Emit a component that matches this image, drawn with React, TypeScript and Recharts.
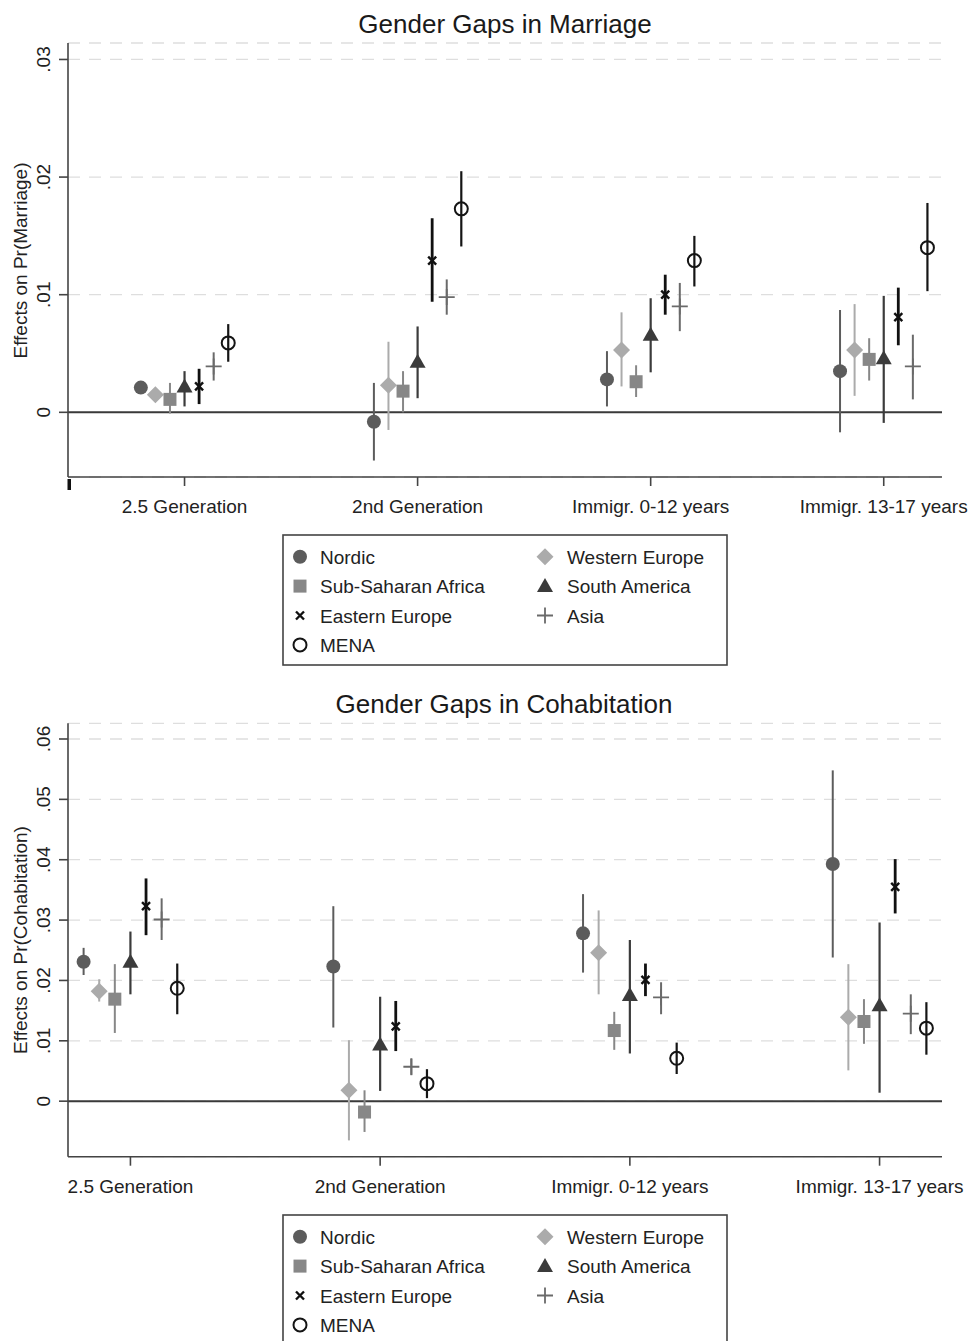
import React from "react";
import { ScatterChart, Scatter, XAxis, YAxis, CartesianGrid, ReferenceLine, ErrorBar } from "recharts";

const FONT = "'Liberation Sans', Arial, Helvetica, sans-serif";

// ---------- data ----------
const CATEGORIES = ["2.5 Generation", "2nd Generation", "Immigr. 0-12 years", "Immigr. 13-17 years"];
const REGIONS = ["Nordic", "Western Europe", "Sub-Saharan Africa", "South America", "Eastern Europe", "Asia", "MENA"];

// rows = regions (order above), columns = categories
const MARRIAGE_EST = [
  [0.0021, -0.0008, 0.0028, 0.0035],
  [0.0015, 0.0023, 0.0053, 0.0053],
  [0.0011, 0.0018, 0.0026, 0.0045],
  [0.0022, 0.0043, 0.0066, 0.0046],
  [0.0022, 0.0129, 0.0100, 0.0081],
  [0.0039, 0.0098, 0.0090, 0.0039],
  [0.0059, 0.0173, 0.0129, 0.0140],
];
const MARRIAGE_LO = [
  [0.0019, -0.0041, 0.0005, -0.0017],
  [0.0013, -0.0015, 0.0022, 0.0014],
  [-0.0001, 0.0000, 0.0013, 0.0027],
  [0.0005, 0.0012, 0.0034, -0.0009],
  [0.0007, 0.0094, 0.0083, 0.0057],
  [0.0027, 0.0083, 0.0069, 0.0011],
  [0.0043, 0.0141, 0.0107, 0.0103],
];
const MARRIAGE_HI = [
  [0.0023, 0.0025, 0.0052, 0.0087],
  [0.0018, 0.0060, 0.0085, 0.0092],
  [0.0025, 0.0035, 0.0040, 0.0063],
  [0.0035, 0.0073, 0.0097, 0.0099],
  [0.0037, 0.0165, 0.0117, 0.0106],
  [0.0051, 0.0113, 0.0110, 0.0066],
  [0.0075, 0.0205, 0.0150, 0.0178],
];

const COHAB_EST = [
  [0.0231, 0.0223, 0.0278, 0.0393],
  [0.0182, 0.0018, 0.0246, 0.0139],
  [0.0169, -0.0018, 0.0117, 0.0132],
  [0.0231, 0.0094, 0.0176, 0.0159],
  [0.0323, 0.0124, 0.0201, 0.0355],
  [0.0301, 0.0057, 0.0172, 0.0145],
  [0.0187, 0.0029, 0.0071, 0.0121],
];
const COHAB_LO = [
  [0.0209, 0.0122, 0.0213, 0.0238],
  [0.0165, -0.0065, 0.0177, 0.0051],
  [0.0113, -0.0051, 0.0085, 0.0095],
  [0.0177, 0.0017, 0.0079, 0.0014],
  [0.0275, 0.0083, 0.0174, 0.0311],
  [0.0267, 0.0043, 0.0144, 0.0111],
  [0.0144, 0.0005, 0.0045, 0.0077],
];
const COHAB_HI = [
  [0.0254, 0.0323, 0.0343, 0.0548],
  [0.0202, 0.0101, 0.0316, 0.0227],
  [0.0227, 0.0018, 0.0148, 0.0169],
  [0.0281, 0.0173, 0.0267, 0.0296],
  [0.0369, 0.0166, 0.0228, 0.0401],
  [0.0336, 0.0071, 0.0197, 0.0177],
  [0.0228, 0.0053, 0.0097, 0.0164],
];

const MARRIAGE_Y_TICKS = [0, 0.01, 0.02, 0.03];
const MARRIAGE_Y_LABELS = ["0", ".01", ".02", ".03"];
const COHAB_Y_TICKS = [0, 0.01, 0.02, 0.03, 0.04, 0.05, 0.06];
const COHAB_Y_LABELS = ["0", ".01", ".02", ".03", ".04", ".05", ".06"];

// ---------- styles ----------
const DODGE = 0.0625;
const STYLES = [
  { kind: "circle", color: "#5c5c5c", ci: 2 },
  { kind: "diamond", color: "#ababab", ci: 2 },
  { kind: "square", color: "#878787", ci: 2 },
  { kind: "triangle", color: "#3b3b3b", ci: 2.2 },
  { kind: "x", color: "#111111", ci: 2.8 },
  { kind: "plus", color: "#6a6a6a", ci: 2 },
  { kind: "ocircle", color: "#151515", ci: 2.2 },
];

function Marker({ kind, cx, cy, color }: { kind: string; cx: number; cy: number; color: string }) {
  switch (kind) {
    case "circle":
      return <circle cx={cx} cy={cy} r={7} fill={color} />;
    case "diamond":
      return <polygon points={`${cx},${cy - 8.5} ${cx + 8.5},${cy} ${cx},${cy + 8.5} ${cx - 8.5},${cy}`} fill={color} />;
    case "square":
      return <rect x={cx - 6.5} y={cy - 6.5} width={13} height={13} fill={color} />;
    case "triangle":
      return <polygon points={`${cx},${cy - 8} ${cx + 8},${cy + 6} ${cx - 8},${cy + 6}`} fill={color} />;
    case "x":
      return (
        <path d={`M${cx - 4},${cy - 4}L${cx + 4},${cy + 4}M${cx - 4},${cy + 4}L${cx + 4},${cy - 4}`} stroke={color} strokeWidth={2.4} fill="none" />
      );
    case "plus":
      return <path d={`M${cx - 8},${cy}H${cx + 8}M${cx},${cy - 8}V${cy + 8}`} stroke={color} strokeWidth={1.8} fill="none" />;
    case "ocircle":
      return <circle cx={cx} cy={cy} r={6.5} fill="none" stroke={color} strokeWidth={2} />;
    default:
      return null;
  }
}

function buildSeries(est: number[][], lo: number[][], hi: number[][]) {
  return REGIONS.map((name, i) => ({
    name,
    data: CATEGORIES.map((c, j) => ({
      x: j + 1 + (i - 3) * DODGE,
      y: est[i][j],
      err: [est[i][j] - lo[i][j], hi[i][j] - est[i][j]],
    })),
  }));
}

type PanelProps = {
  top: number;
  height: number;
  marginTop: number;
  marginBottom: number;
  xDomain: [number, number];
  xTicks: number[];
  yDomain: [number, number];
  yTicks: number[];
  yLabels: string[];
  est: number[][];
  lo: number[][];
  hi: number[][];
};

function Panel(p: PanelProps) {
  const series = buildSeries(p.est, p.lo, p.hi);
  const XTick = (props: any) => {
    const { x, y, payload } = props;
    const idx = Math.round(payload.value) - 1;
    if (Math.abs(payload.value - Math.round(payload.value)) > 1e-6) {
      return <rect x={x - 0.5} y={y + 2} width={3.5} height={11} fill="#111" />;
    }
    return (
      <g>
        <line x1={x} x2={x} y1={y} y2={y + 9} stroke="#444" strokeWidth={1.6} />
        <text x={x} y={y + 36} textAnchor="middle" fontFamily={FONT} fontSize={19} fill="#222">
          {CATEGORIES[idx]}
        </text>
      </g>
    );
  };
  const YTick = (props: any) => {
    const { x, y, payload } = props;
    const idx = p.yTicks.findIndex((t) => Math.abs(t - payload.value) < 1e-9);
    return (
      <g>
        <line x1={x - 9} x2={x} y1={y} y2={y} stroke="#444" strokeWidth={1.6} />
        <text
          x={x - 18}
          y={y}
          transform={`rotate(-90, ${x - 18}, ${y})`}
          textAnchor="middle"
          fontFamily={FONT}
          fontSize={19}
          fill="#222"
        >
          {p.yLabels[idx]}
        </text>
      </g>
    );
  };
  return (
    <div style={{ position: "absolute", left: 0, top: p.top }}>
      <ScatterChart
        width={968}
        height={p.height}
        margin={{ top: p.marginTop, right: 26, bottom: p.marginBottom, left: 0 }}
      >
        <CartesianGrid
          horizontal={true}
          vertical={false}
          stroke="#dedede"
          strokeWidth={1.3}
          strokeDasharray="12 9"
        />
        <XAxis
          type="number"
          dataKey="x"
          domain={p.xDomain}
          ticks={p.xTicks}
          allowDataOverflow={true}
          height={40}
          tickSize={0}
          tickMargin={0}
          tickLine={false}
          tick={XTick}
          axisLine={{ stroke: "#444", strokeWidth: 1.6 }}
          interval={0}
        />
        <YAxis
          type="number"
          dataKey="y"
          domain={p.yDomain}
          ticks={p.yTicks}
          allowDataOverflow={true}
          width={68}
          tickSize={0}
          tickMargin={0}
          tickLine={false}
          tick={YTick}
          axisLine={{ stroke: "#444", strokeWidth: 1.6 }}
          interval={0}
        />
        <ReferenceLine y={0} stroke="#3a3a3a" strokeWidth={2} ifOverflow="extendDomain" />
        {series.map((s, i) => (
          <Scatter
            key={s.name}
            name={s.name}
            data={s.data}
            dataKey="y"
            isAnimationActive={false}
            shape={(sp: any) => <Marker kind={STYLES[i].kind} cx={sp.cx} cy={sp.cy} color={STYLES[i].color} />}
          >
            <ErrorBar
              dataKey="err"
              direction="y"
              width={0}
              stroke={STYLES[i].color}
              strokeWidth={STYLES[i].ci}
              isAnimationActive={false}
            />
          </Scatter>
        ))}
      </ScatterChart>
    </div>
  );
}

function Legend({ top }: { top: number }) {
  const left = 283;
  const rowH = 29.4;
  const cols = [
    { mx: 17, tx: 37 },
    { mx: 262, tx: 284 },
  ];
  return (
    <g transform={`translate(${left}, ${top})`}>
      <rect x={0} y={0} width={444} height={130} fill="#fff" stroke="#444" strokeWidth={1.6} />
      {REGIONS.map((name, i) => {
        const col = cols[i % 2];
        const row = Math.floor(i / 2);
        const cy = 21.7 + row * rowH;
        return (
          <g key={name}>
            <Marker kind={STYLES[i].kind} cx={col.mx} cy={cy} color={STYLES[i].color} />
            <text x={col.tx} y={cy + 7} fontFamily={FONT} fontSize={19} fill="#222">
              {name}
            </text>
          </g>
        );
      })}
    </g>
  );
}

export default function App() {
  return (
    <div
      style={{
        position: "absolute",
        left: 0,
        top: 0,
        width: 968,
        height: 1341,
        background: "#fff",
        overflow: "hidden",
      }}
    >
      <Panel
        top={0}
        height={530}
        marginTop={43}
        marginBottom={13}
        xDomain={[0.5, 4.25]}
        xTicks={[0.5, 1, 2, 3, 4]}
        yDomain={[-0.0055, 0.0314]}
        yTicks={MARRIAGE_Y_TICKS}
        yLabels={MARRIAGE_Y_LABELS}
        est={MARRIAGE_EST}
        lo={MARRIAGE_LO}
        hi={MARRIAGE_HI}
      />
      <Panel
        top={680}
        height={540}
        marginTop={43.3}
        marginBottom={23.3}
        xDomain={[0.75, 4.25]}
        xTicks={[1, 2, 3, 4]}
        yDomain={[-0.0092, 0.0626]}
        yTicks={COHAB_Y_TICKS}
        yLabels={COHAB_Y_LABELS}
        est={COHAB_EST}
        lo={COHAB_LO}
        hi={COHAB_HI}
      />
      <svg
        width={968}
        height={1341}
        style={{ position: "absolute", left: 0, top: 0, pointerEvents: "none" }}
      >
        <text x={505} y={33} textAnchor="middle" fontFamily={FONT} fontSize={26} fill="#1a1a1a">
          Gender Gaps in Marriage
        </text>
        <text x={504} y={713} textAnchor="middle" fontFamily={FONT} fontSize={26} fill="#1a1a1a">
          Gender Gaps in Cohabitation
        </text>
        <text
          x={27}
          y={260.5}
          transform="rotate(-90, 27, 260.5)"
          textAnchor="middle"
          fontFamily={FONT}
          fontSize={19}
          fill="#222"
        >
          Effects on Pr(Marriage)
        </text>
        <text
          x={27}
          y={940}
          transform="rotate(-90, 27, 940)"
          textAnchor="middle"
          fontFamily={FONT}
          fontSize={19}
          fill="#222"
        >
          Effects on Pr(Cohabitation)
        </text>
        <Legend top={535} />
        <Legend top={1215} />
      </svg>
    </div>
  );
}
